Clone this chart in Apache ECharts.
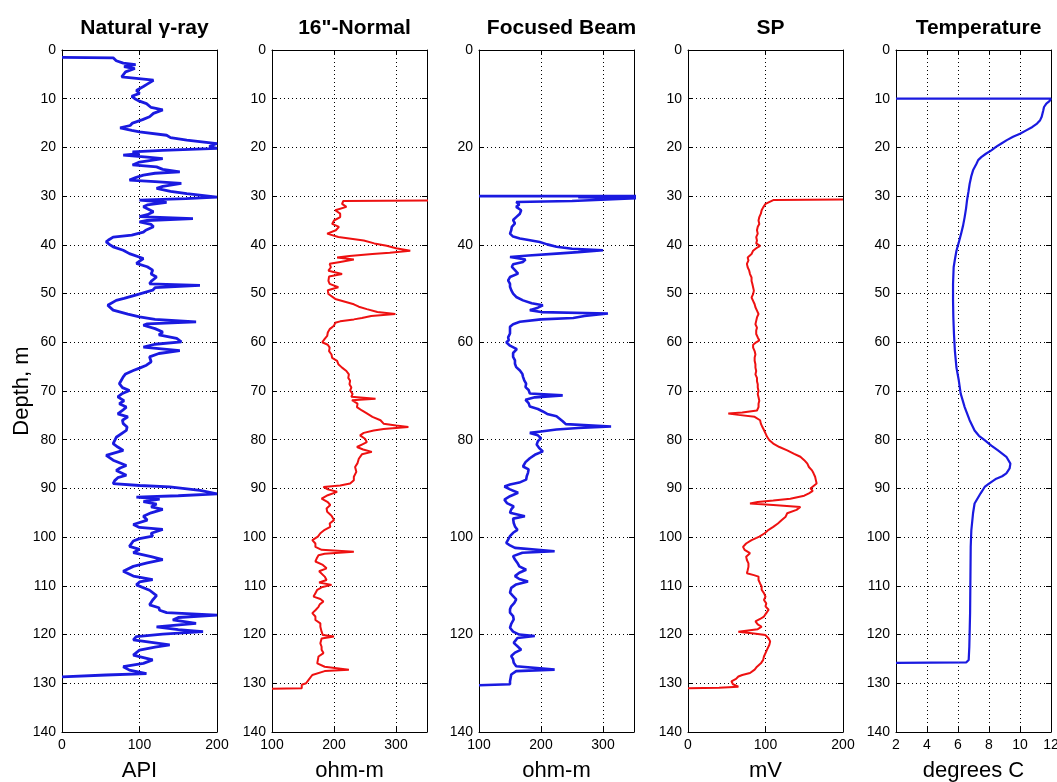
<!DOCTYPE html>
<html>
<head>
<meta charset="utf-8">
<script src="https://cdn.jsdelivr.net/npm/echarts@6/dist/echarts.min.js"></script>
<style>
html,body{margin:0;padding:0;background:#fff;}
#chart{width:1057px;height:782px;}
</style>
</head>
<body>
<div id="chart"></div>
<script>
// ---------------- DATA ----------------
const panelTitles = ['Natural \u03b3-ray', '16"-Normal', 'Focused Beam', 'SP', 'Temperature'];
const panelUnits = ['API', 'ohm-m', 'ohm-m', 'mV', 'degrees C'];
const xMins = [0, 100, 100, 0, 2];
const xMaxs = [200, 350, 350, 200, 12];
const xSteps = [100, 100, 100, 100, 2];
const yMin = 0, yMax = 140;
const ySteps = [10, 10, 20, 10, 10];

// Natural gamma-ray (depth m, API)
const gammaDepth = [1.5,1.6,2.2,2.7,3.0,3.4,3.8,4.5,5.5,6.2,7.0,7.5,8.3,8.9,9.5,10.0,10.5,11.0,11.8,12.3,13.0,13.7,14.3,15.0,15.5,16.0,16.5,16.8,17.5,18.0,18.5,19.2,19.8,20.2,20.6,20.9,21.3,21.6,22.0,22.3,23.0,23.6,24.0,24.5,25.0,25.3,25.7,26.2,26.7,27.0,27.4,28.0,28.4,29.0,29.5,30.2,30.5,30.8,31.3,31.8,32.2,33.2,33.8,34.2,34.6,35.0,35.3,35.8,36.3,37.0,37.4,38.0,38.4,39.0,39.4,40.0,40.4,41.1,41.8,42.8,43.8,44.5,45.2,46.0,46.6,47.5,48.0,48.3,48.8,49.3,50.3,51.0,51.4,52.4,53.4,54.2,54.8,55.3,55.8,56.2,56.5,57.2,57.9,58.5,59.2,59.9,60.4,61.0,61.7,62.3,63.0,64.0,64.7,65.3,65.8,66.5,67.1,68.5,69.3,69.9,70.5,71.2,72.0,72.6,73.3,74.0,74.7,75.3,76.0,76.7,77.4,78.1,79.5,80.8,81.5,82.2,83.2,84.2,85.3,85.8,86.3,87.3,87.8,88.4,89.0,89.4,89.7,90.4,91.1,91.5,91.8,92.2,92.7,93.2,93.8,94.3,95.0,95.7,96.5,97.4,98.0,98.4,99.2,99.8,100.3,100.8,101.9,102.5,103.2,104.0,104.6,105.3,106.0,107.0,108.0,108.7,109.2,109.8,110.9,112.0,112.9,113.9,114.5,115.0,115.5,116.0,116.5,117.0,117.7,118.4,119.0,119.4,119.9,120.4,121.1,122.1,122.6,123.2,124.2,125.2,125.9,126.6,127.3,128.0,128.3,128.7];
const gammaAPI = [0,66,70,79,95,80,94,82,77,118,110,105,96,100,90,94,100,109,115,130,118,113,104,91,88,75,90,100,135,140,161,200,190,200,130,91,100,79,110,130,100,91,122,130,152,120,105,95,87,120,154,130,122,140,161,200,160,100,135,110,105,118,110,100,169,110,100,115,118,108,105,90,66,60,57,62,66,79,87,105,96,110,117,115,122,115,113,178,120,117,95,80,70,59,66,85,100,120,173,110,105,120,130,125,148,154,120,105,152,125,113,115,109,100,92,82,79,74,78,87,78,72,80,74,83,78,72,85,78,79,84,83,70,66,72,79,57,66,83,75,70,83,72,68,66,100,139,178,200,150,96,126,105,122,115,130,115,105,110,92,100,130,115,117,100,92,87,100,92,115,130,110,92,79,92,117,100,96,113,122,117,113,125,126,135,200,150,143,173,122,150,182,130,96,92,139,120,100,92,117,105,79,87,109,57,0];

// 16"-Normal (depth m, ohm-m)
const normalDepth = [30.9,31.0,31.6,32.2,32.9,33.6,34.3,35.0,35.7,36.3,37.0,37.7,38.4,39.1,39.7,40.2,40.7,41.2,41.6,41.9,42.3,42.6,43.0,43.5,43.9,44.6,45.3,46.0,46.5,47.4,48.0,48.7,49.3,50.1,51.1,52.2,52.7,53.2,53.8,54.2,54.6,55.0,55.3,55.7,56.0,56.6,57.3,58.0,58.7,59.3,60.0,60.5,61.1,61.8,62.5,63.2,63.8,64.5,65.2,65.9,66.6,67.3,67.9,68.6,69.3,69.9,70.6,71.2,71.6,71.9,72.6,73.3,74.0,74.6,75.3,76.0,76.7,77.1,77.4,77.8,78.1,78.6,79.1,79.8,80.5,81.0,81.5,82.0,82.5,83.0,83.9,84.8,85.6,86.6,87.6,88.3,89.0,89.4,89.7,90.2,90.7,91.4,92.1,92.8,93.4,94.1,94.8,95.6,96.5,97.2,97.9,98.5,99.2,99.9,100.6,101.3,102.0,102.6,103.0,103.4,103.7,104.4,105.0,105.7,106.4,107.0,107.4,108.1,108.8,109.3,109.8,110.3,110.8,111.5,112.2,112.7,113.2,113.8,114.3,115.0,115.6,116.3,117.0,117.7,118.4,119.4,120.1,120.4,120.8,121.8,122.5,123.1,123.8,124.5,125.2,125.9,126.6,127.2,127.5,128.3,129.3,130.0,130.3,131.0,131.1];
const normalOhm = [360,215,213,220,202,210,210,200,197,208,203,189,207,248,265,285,300,323,290,262,225,205,232,210,193,195,191,213,192,191,193,207,190,191,202,232,240,253,270,299,260,245,232,210,202,200,193,190,189,185,181,190,193,192,196,197,205,207,213,220,224,223,226,225,228,226,230,228,267,229,238,237,245,253,262,275,280,300,320,280,264,248,242,250,253,245,237,247,261,245,240,238,234,236,232,232,226,210,183,190,205,190,180,190,194,188,189,196,200,193,194,185,178,174,165,170,170,180,232,185,175,172,170,182,188,176,178,185,188,176,196,180,173,170,167,178,183,177,175,170,165,170,170,178,178,180,182,200,180,178,180,180,183,175,174,173,185,224,185,165,159,155,148,148,100];

// Focused Beam (depth m, ohm-m)
const beamDepth = [30.0,30.0,30.2,30.4,30.8,31.0,31.2,31.7,32.2,32.9,33.6,34.3,34.9,35.6,36.3,37.0,37.7,38.3,38.7,39.0,39.4,39.9,40.4,40.8,41.1,41.5,41.8,42.2,42.5,43.0,43.5,44.0,44.5,45.2,45.9,46.6,47.3,48.0,48.6,49.3,50.0,50.7,51.4,52.0,52.4,52.9,53.4,53.8,54.1,54.6,55.0,55.3,55.8,56.3,56.8,57.5,58.2,59.0,59.6,60.0,60.7,61.4,62.2,63.0,63.7,64.4,65.1,65.8,66.5,67.1,67.8,68.5,69.2,69.8,70.5,70.9,71.3,71.8,72.5,73.2,73.7,74.2,74.7,75.2,75.7,76.2,76.8,77.3,77.6,77.9,78.3,78.6,79.1,79.7,80.3,81.0,81.7,82.4,83.1,83.8,84.6,85.5,86.1,86.8,87.5,88.2,88.8,89.2,89.6,90.2,90.9,91.6,92.3,93.0,93.7,94.3,95.0,95.7,96.2,97.1,97.8,98.5,99.1,99.8,100.5,101.2,101.7,102.2,102.9,103.2,103.9,104.6,105.3,106.0,106.7,107.3,108.0,108.6,109.1,109.7,110.4,111.4,112.1,112.8,113.5,114.2,114.8,115.5,116.2,116.9,117.8,118.6,119.4,120.0,120.3,120.7,121.7,122.4,123.1,123.7,124.4,125.1,125.8,126.5,127.2,127.5,128.2,128.9,129.6,130.2,130.4];
const beamOhm = [100,360,260,360,360,250,160,165,160,168,166,160,155,158,153,152,150,155,166,180,198,210,225,250,300,260,225,180,150,175,171,155,153,158,163,150,147,150,150,152,155,160,171,185,203,195,182,200,308,270,252,200,166,155,150,150,150,147,148,144,150,161,155,155,158,158,160,166,170,171,173,176,175,180,182,235,190,175,180,182,195,203,210,225,230,235,240,313,260,225,200,182,195,200,195,193,197,203,190,182,175,171,180,179,177,176,165,150,141,150,163,150,141,145,156,152,150,174,155,156,158,162,155,150,147,144,150,158,222,170,155,158,162,165,176,165,158,165,179,160,152,150,155,160,157,152,150,150,155,156,152,150,155,165,190,162,156,162,168,158,152,155,156,160,222,160,152,151,150,150,100];

// SP (depth m, mV)
const spDepth = [30.7,30.8,31.6,32.3,32.9,33.6,34.3,35.0,35.7,36.3,37.0,37.7,38.4,39.1,39.7,40.2,40.7,41.2,41.9,42.6,43.2,43.9,44.6,45.3,46.0,46.7,47.4,48.0,48.7,49.4,50.1,50.8,51.5,52.2,52.8,53.5,54.2,54.9,55.6,56.3,57.0,57.6,58.3,59.0,59.6,60.0,60.5,61.1,61.8,62.5,63.1,63.8,64.5,65.2,65.9,66.6,67.3,68.0,68.6,69.3,70.0,70.6,71.3,72.0,72.6,73.3,74.0,74.4,74.6,74.9,75.3,76.0,76.7,77.4,78.0,78.7,79.4,80.1,80.8,81.5,82.2,82.9,83.5,84.2,84.9,85.6,86.3,86.9,87.6,88.3,89.0,89.5,90.0,90.5,91.0,91.5,92.1,92.5,92.8,93.1,93.4,93.8,94.4,95.1,95.8,96.5,97.2,97.9,98.5,99.2,99.9,100.6,101.3,102.0,102.6,103.3,104.0,104.7,105.4,106.1,106.8,107.4,107.8,108.1,108.8,109.5,110.1,110.8,111.5,112.2,112.9,113.6,114.2,114.9,115.6,116.3,116.8,117.3,117.9,118.4,118.9,119.4,119.8,120.1,120.8,121.4,122.1,122.5,123.1,123.8,124.5,125.2,125.9,126.6,127.2,127.9,128.3,128.6,129.1,129.6,130.2,130.7,130.9,131.0];
const spMV = [200,110,100,97,95,94,92,91,92,90,89,90,88,89,88,93,88,84,82,77,78,76,77,79,80,82,82,83,84,85,84,82,84,86,87,89,91,89,88,87,89,88,88,90,92,88,84,84,86,87,86,86,87,87,88,87,89,89,90,90,91,90,91,92,91,91,89,70,52,65,86,93,94,96,98,100,102,105,110,118,128,137,145,150,154,156,160,162,164,165,166,162,158,161,156,150,132,110,90,80,110,145,140,128,126,121,116,110,104,99,92,82,75,71,73,80,75,76,78,78,77,76,85,91,91,93,95,95,98,100,98,101,100,104,101,98,93,87,90,95,90,65,85,100,104,106,105,104,102,100,98,97,94,89,86,80,70,65,62,56,58,65,40,0];

// Temperature (depth m, degrees C)
const tempDepth = [10.0,10.0,10.5,11.0,11.7,12.4,13.7,14.4,15.1,15.8,16.5,17.2,17.8,18.5,19.2,19.9,20.6,21.3,22.0,22.6,23.3,24.7,26.0,27.5,29.0,30.9,32.5,34.3,36.0,37.7,39.5,41.2,43.0,44.6,46.3,48.0,51.5,54.9,58.3,61.8,65.2,67.8,70.5,73.3,76.0,78.1,79.2,80.1,81.2,82.2,83.5,84.9,85.9,86.9,87.5,88.0,89.0,89.7,91.0,93.1,95.1,98.6,102.0,108.8,115.6,122.5,125.2,125.7,125.8];
const tempC = [2,12,11.9,11.7,11.55,11.5,11.4,11.3,11.1,10.8,10.4,10.0,9.55,9.15,8.8,8.45,8.15,7.8,7.5,7.3,7.2,6.97,6.85,6.75,6.68,6.58,6.52,6.43,6.33,6.2,6.05,5.9,5.8,5.72,5.7,5.68,5.68,5.7,5.74,5.8,5.9,6.05,6.17,6.43,6.75,7.07,7.35,7.72,8.15,8.58,9.12,9.38,9.33,9.12,8.85,8.47,8.0,7.72,7.46,7.07,6.97,6.86,6.82,6.8,6.78,6.73,6.69,6.54,2];

// ---------------- LAYOUT / STYLE ----------------
const BLUE = '#1a1ae0', RED = '#ee1111';
const depths = [gammaDepth, normalDepth, beamDepth, spDepth, tempDepth];
const values = [gammaAPI, normalOhm, beamOhm, spMV, tempC];
const colors = [BLUE, RED, BLUE, RED, BLUE];
const widths = [2.8, 2, 2.6, 2, 2.2];
const lefts = [62, 272, 479, 688, 896];
const TOP = 50, W = 155, H = 682;
const tickFont = "'Liberation Sans', Arial, sans-serif";

const grids = [], xAxes = [], yAxes = [], series = [], titles = [];
const dotted = {type: [1, 3], color: '#000', width: 1};
for (let i = 0; i < 5; i++) {
  grids.push({left: lefts[i], top: TOP, width: W, height: H, containLabel: false, outerBoundsMode: 'none'});
  titles.push({
    text: panelTitles[i], left: lefts[i] + W / 2, top: 13, textAlign: 'center',
    textStyle: {fontFamily: 'Liberation Sans', fontWeight: 'bold', fontSize: 21, color: '#000'}
  });
  const xmax = xMaxs[i];
  const xbase = {
    type: 'value', gridIndex: i, min: xMins[i], max: xMaxs[i], interval: xSteps[i],
    axisLine: {show: true, onZero: false, lineStyle: {color: '#000', width: 1}},
    axisTick: {show: true, inside: true, length: 5, lineStyle: {color: '#000'}}
  };
  xAxes.push(Object.assign({}, xbase, {
    position: 'bottom',
    name: panelUnits[i], nameLocation: 'middle', nameGap: 28, nameMoveOverlap: false,
    nameTextStyle: {fontFamily: 'Liberation Sans', fontSize: 22, color: '#000'},
    axisLabel: {show: true, margin: 6, fontFamily: tickFont, fontSize: 14, color: '#000',
      formatter: v => (v === xmax && (xmax - xMins[i]) % xSteps[i] !== 0) ? '' : String(v)},
    splitLine: {show: true, lineStyle: dotted}
  }));
  xAxes.push(Object.assign({}, xbase, {
    position: 'top', axisLabel: {show: false}, splitLine: {show: false}
  }));
  const ybase = {
    type: 'value', gridIndex: i, min: yMin, max: yMax, interval: ySteps[i], inverse: true,
    axisLine: {show: true, onZero: false, lineStyle: {color: '#000', width: 1}},
    axisTick: {show: true, inside: true, length: 5, lineStyle: {color: '#000'}}
  };
  const yMain = Object.assign({}, ybase, {
    position: 'left',
    axisLabel: {show: true, margin: 6, fontFamily: tickFont, fontSize: 14, color: '#000'},
    splitLine: {show: true, lineStyle: dotted}
  });
  if (i === 0) {
    Object.assign(yMain, {
      name: 'Depth, m', nameLocation: 'middle', nameGap: 29, nameMoveOverlap: false,
      nameTextStyle: {fontFamily: 'Liberation Sans', fontSize: 22, color: '#000'}
    });
  }
  yAxes.push(yMain);
  yAxes.push(Object.assign({}, ybase, {
    position: 'right', axisLabel: {show: false}, splitLine: {show: false}
  }));
  series.push({
    type: 'line', xAxisIndex: 2 * i, yAxisIndex: 2 * i,
    data: depths[i].map((d, k) => [values[i][k], d]),
    showSymbol: false, symbol: 'none', clip: true, silent: true,
    lineStyle: {color: colors[i], width: widths[i]},
    itemStyle: {color: colors[i]}
  });
}

const chart = echarts.init(document.getElementById('chart'), null, {renderer: 'canvas'});
chart.setOption({
  animation: false,
  backgroundColor: '#fff',
  title: titles,
  grid: grids,
  xAxis: xAxes,
  yAxis: yAxes,
  series: series
});
</script>
</body>
</html>
